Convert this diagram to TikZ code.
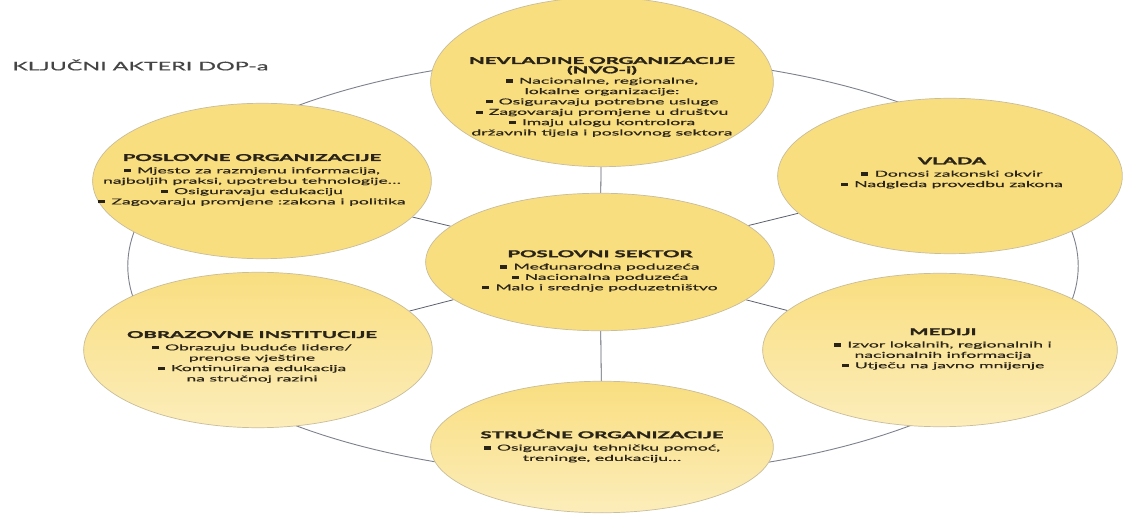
\documentclass[tikz,border=0pt]{standalone}
\usepackage{fontspec}
\setmainfont{Lato}[UprightFeatures={FakeBold=0.4}]
\newfontfamily\heavyfont{Lato}[BoldFeatures={FakeBold=1.6}]
\usetikzlibrary{shapes.geometric,backgrounds}
\definecolor{actorfill}{HTML}{F9DE80}
\definecolor{actorlight}{HTML}{FCEDBA}
\definecolor{rimgray}{HTML}{C9BD9A}
\definecolor{ringgray}{HTML}{5C6070}
\definecolor{inktext}{HTML}{2A2418}
\definecolor{titlegray}{HTML}{454545}
\newcommand{\bul}{\rule[0.12em]{0.4em}{0.4em}\hspace{0.35em}}
\newcommand{\hd}[1]{{\fontsize{9.5}{11}\heavyfont\bfseries #1}}
\tikzset{
  actor/.style={ellipse, draw=rimgray, line width=0.7bp, inner sep=0pt,
    top color=actorfill, bottom color=actorfill},
  actorlow/.style={actor, bottom color=actorlight},
  actortext/.style={align=center, text=inktext, inner sep=0pt,
    font=\fontsize{8.2}{10.4}\selectfont, xscale=2.15, transform shape},
  spoke/.style={draw=ringgray, line width=0.8bp},
  ring/.style={ellipse, draw=ringgray!80, line width=0.9bp, inner sep=0pt}
}
\begin{document}
\begin{tikzpicture}[x=1bp,y=-1bp]
  \useasboundingbox (0,0) rectangle (1123,514);
  \node[actor, minimum width=344, minimum height=170] (nvo) at (602,82) {};
  \node[actor, minimum width=340, minimum height=156] (porg) at (262,181) {};
  \node[actor, minimum width=346, minimum height=156] (vlada) at (950,176) {};
  \node[actor, minimum width=350, minimum height=138] (sektor) at (600,262) {};
  \node[actorlow, minimum width=350, minimum height=156] (obraz) at (258,350) {};
  \node[actorlow, minimum width=356, minimum height=154] (mediji) at (940,350) {};
  \node[actorlow, minimum width=344, minimum height=132] (strucne) at (602,447) {};

  \node[actortext] (nvo-t) at (602,97) {\hd{NEVLADINE ORGANIZACIJE}\\[-1pt]
    \hd{(NVO-i)}\\ \bul Nacionalne, regionalne,\\ lokalne organizacije:\\
    \bul Osiguravaju potrebne usluge\\ \bul Zagovaraju promjene u društvu\\
    \bul Imaju ulogu kontrolora\\ državnih tijela i poslovnog sektora};
  \node[actortext] (porg-t) at (252,180) {\hd{POSLOVNE ORGANIZACIJE}\\[2pt]
    \bul Mjesto za razmjenu informacija,\\ najboljih praksi, upotrebu tehnologije\ldots\\
    \bul Osiguravaju edukaciju\\ \bul Zagovaraju promjene :zakona i politika};
  \node[actortext] (vlada-t) at (952,173) {\hd{VLADA}\\[2pt]
    \bul Donosi zakonski okvir\\ \bul Nadgleda provedbu zakona};
  \node[actortext] (sektor-t) at (600,271) {\hd{POSLOVNI SEKTOR}\\[2pt]
    \bul Međunarodna poduzeća\\ \bul Nacionalna poduzeća\\
    \bul Malo i srednje poduzetništvo};
  \node[actortext] (obraz-t) at (252,357) {\hd{OBRAZOVNE INSTITUCIJE}\\[2pt]
    \bul Obrazuju buduće lidere/\\ prenose vještine\\
    \bul Kontinuirana edukacija\\ na stručnoj razini};
  \node[actortext] (mediji-t) at (943,349) {\hd{MEDIJI}\\[2pt]
    \bul Izvor lokalnih, regionalnih i\\ nacionalnih informacija\\
    \bul Utječu na javno mnijenje};
  \node[actortext] (strucne-t) at (602,446) {\hd{STRUČNE ORGANIZACIJE}\\[2pt]
    \bul Osiguravaju tehničku pomoć,\\ treninge, edukaciju\ldots};

  \node[anchor=west, text=titlegray, inner sep=0pt, font=\fontsize{12}{14}\selectfont,
    xscale=1.95, transform shape] (naslov) at (12,65) {KLJUČNI AKTERI DOP-a};

  \begin{scope}[on background layer]
    \fill[white] (0,0) rectangle (1123,514);
    \node[ring, minimum width=954, minimum height=420] (ring) at (603,266) {};
    \foreach \o in {nvo,porg,vlada,obraz,mediji,strucne}
      \draw[spoke] (sektor) -- (\o);
  \end{scope}
\end{tikzpicture}
\end{document}
